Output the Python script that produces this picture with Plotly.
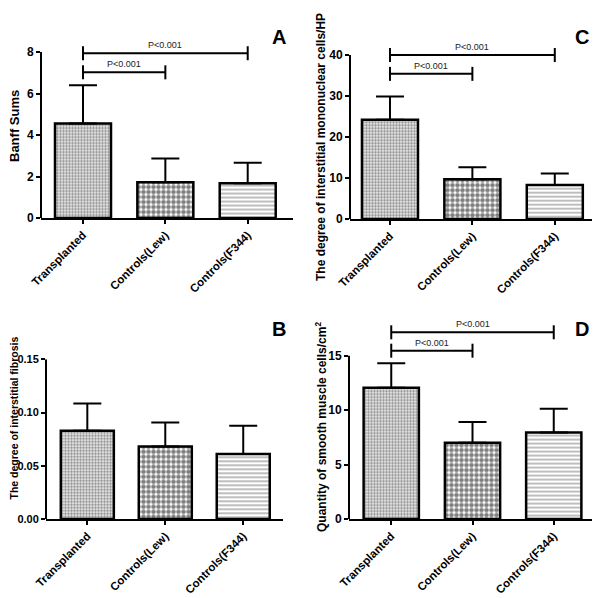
import plotly.graph_objects as go

# ---------------- data ----------------
categories = ["Transplanted", "Controls(Lew)", "Controls(F344)"]

banff_mean = [4.55, 1.72, 1.68]
banff_sd = [1.85, 1.15, 0.98]

fibrosis_mean = [0.083, 0.068, 0.061]
fibrosis_sd = [0.0255, 0.0226, 0.0265]

mono_mean = [24.2, 9.7, 8.3]
mono_sd = [5.7, 2.9, 2.8]

smc_mean = [12.05, 7.0, 7.95]
smc_sd = [2.25, 1.9, 2.18]

# significance brackets: (from index, to index, y level, label)
banff_brackets = [(0, 2, 7.94, "P<0.001"), (0, 1, 7.02, "P<0.001")]
mono_brackets = [(0, 2, 40.0, "P<0.001"), (0, 1, 35.4, "P<0.001")]
smc_brackets = [(0, 2, 17.15, "P<0.001"), (0, 1, 15.46, "P<0.001")]

banff_ticks = [0, 2, 4, 6, 8]
fibrosis_ticks = [0, 0.05, 0.10, 0.15]
mono_ticks = [0, 10, 20, 30, 40]
smc_ticks = [0, 5, 10, 15]

# ---------------- layout helpers ----------------
# the page body adds an 8px offset, so the figure is drawn 8px smaller
OFF = 8
W, H = 600 - OFF, 598 - OFF


def xdom(p0, p1):
    return [(p0 - OFF) / W, (p1 - OFF) / W]


def ydom(p_bottom, p_top):
    return [1 - (p_bottom - OFF) / H, 1 - (p_top - OFF) / H]


def xp(px):
    return (px - OFF) / W


def yp(py):
    return 1 - (py - OFF) / H


patterns = [
    dict(shape=".", size=3, solidity=0.6, fgcolor="#222222", bgcolor="#ffffff"),
    dict(shape=".", size=5, solidity=0.65, fgcolor="#000000", bgcolor="#ffffff"),
    dict(shape="-", size=4, solidity=0.35, fgcolor="#444444", bgcolor="#ffffff"),
]

FONT = "Arial, Liberation Sans, Helvetica, sans-serif"

fig = go.Figure()

panels = [
    dict(ax="", means=banff_mean, sds=banff_sd, ticks=banff_ticks, fmt="d", br=banff_brackets,
         xpx=(41, 293), y0px=218, ppu=20.75, ytop=8.6, xr=[-0.51, 2.55],
         title="Banff Sums", tpos=(15, 126), tsize=13, tick=12, letter="A", lpos=(279, 37)),
    dict(ax="2", means=mono_mean, sds=mono_sd, ticks=mono_ticks, fmt="d", br=mono_brackets,
         xpx=(350, 596), y0px=219, ppu=4.1, ytop=43.0, xr=[-0.485, 2.5],
         title="The degree of interstitial mononuclear cells/HP", tpos=(321, 147), tsize=12,
         tick=12, letter="C", lpos=(582, 37)),
    dict(ax="3", means=fibrosis_mean, sds=fibrosis_sd, ticks=fibrosis_ticks, fmt=".2f", br=[],
         xpx=(46, 283), y0px=519, ppu=1064.7, ytop=0.15, xr=[-0.53, 2.51],
         title="The degree of interstitial fibrosis", tpos=(13.5, 418), tsize=10.5,
         tick=11, letter="B", lpos=(279, 329)),
    dict(ax="4", means=smc_mean, sds=smc_sd, ticks=smc_ticks, fmt="d", br=smc_brackets,
         xpx=(349, 596), y0px=519, ppu=10.887, ytop=18.5, xr=[-0.52, 2.52],
         title="Quantity of smooth muscle cells/cm<sup>2</sup>", tpos=(321, 427), tsize=12,
         tick=12, letter="D", lpos=(582, 329)),
]

layout_axes = {}
annotations = []
shapes = []

for p in panels:
    xa = "x" + p["ax"]
    ya = "y" + p["ax"]
    xs = list(range(len(categories)))
    for i in xs:
        fig.add_trace(go.Bar(
            x=[i], y=[p["means"][i]],
            width=0.68,
            marker=dict(color="white", line=dict(color="black", width=2.5), pattern=patterns[i]),
            error_y=dict(type="data", symmetric=False, array=[p["sds"][i]], arrayminus=[0],
                         color="black", thickness=2, width=14),
            xaxis=xa, yaxis=ya, showlegend=False,
        ))
    for (a, b, yl, lab) in p["br"]:
        fig.add_trace(go.Scatter(
            x=[a, b], y=[yl, yl], mode="lines+markers",
            line=dict(color="black", width=2),
            marker=dict(symbol="line-ns", size=10, line=dict(color="black", width=2)),
            cliponaxis=False, xaxis=xa, yaxis=ya, showlegend=False, hoverinfo="skip",
        ))
        annotations.append(dict(
            x=(a + b) / 2, y=yl, xref=xa, yref=ya, text=lab, showarrow=False,
            yanchor="bottom", yshift=1, font=dict(family=FONT, size=9, color="#222222"),
        ))
    y_top_px = p["y0px"] - p["ytop"] * p["ppu"]
    key_x = "xaxis" + p["ax"]
    key_y = "yaxis" + p["ax"]
    layout_axes[key_x] = dict(
        domain=xdom(*p["xpx"]), anchor=ya, range=p["xr"],
        tickmode="array", tickvals=xs, ticktext=categories, tickangle=-45,
        showline=True, linecolor="black", linewidth=2,
        ticks="outside", ticklen=4, tickwidth=2, tickcolor="black",
        showgrid=False, zeroline=False, automargin=False,
        tickfont=dict(family=FONT, size=11.5, color="black", weight="bold"),
    )
    layout_axes[key_y] = dict(
        domain=ydom(p["y0px"], y_top_px), anchor=xa, range=[0, p["ytop"]],
        tickmode="array", tickvals=p["ticks"], tickformat=p["fmt"],
        showline=False, ticks="outside", ticklen=4, tickwidth=2, tickcolor="black",
        showgrid=False, zeroline=False, automargin=False,
        tickfont=dict(family=FONT, size=p["tick"], color="black", weight="bold"),
    )
    shapes.append(dict(type="line", xref=xa + " domain", yref=ya, x0=0, x1=0,
                       y0=0, y1=p["ticks"][-1], line=dict(color="black", width=2)))
    annotations.append(dict(
        x=xp(p["tpos"][0]), y=yp(p["tpos"][1]), xref="paper", yref="paper",
        text=p["title"], textangle=-90, showarrow=False, xanchor="center", yanchor="middle",
        font=dict(family=FONT, size=p["tsize"], color="black", weight="bold"),
    ))
    annotations.append(dict(
        x=xp(p["lpos"][0]), y=yp(p["lpos"][1]), xref="paper", yref="paper",
        text=p["letter"], showarrow=False, xanchor="center", yanchor="middle",
        font=dict(family=FONT, size=20, color="black", weight="bold"),
    ))

fig.update_layout(
    width=W, height=H,
    margin=dict(l=0, r=0, t=0, b=0, pad=0, autoexpand=False),
    paper_bgcolor="white", plot_bgcolor="white",
    barmode="overlay",
    annotations=annotations, shapes=shapes,
    **layout_axes,
)

fig.write_html("out.html")
